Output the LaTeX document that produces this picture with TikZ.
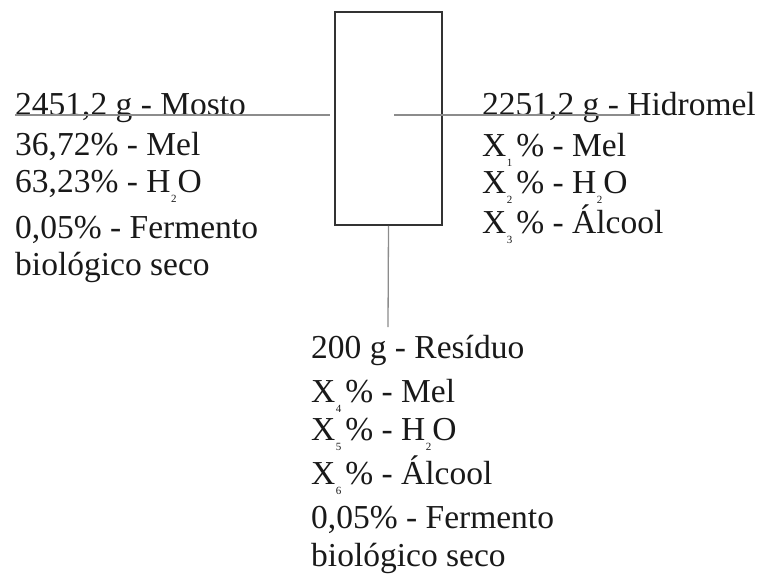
\documentclass[tikz,border=0pt]{standalone}
\usepackage{fontspec}
\setmainfont{Liberation Serif}
\usepackage{xcolor}
\usepackage{tikz}
\usetikzlibrary{positioning, calc}

\newcommand{\lowidx}[1]{\kern0.5pt\raisebox{-0.3em}{\fontsize{11}{11}\selectfont #1}\kern1pt}

\begin{document}
\begin{tikzpicture}[
  x=1pt, y=-1pt,
  vessel/.style={rectangle, draw=black!80, line width=1.8pt, minimum width=107pt, minimum height=213pt, inner sep=0pt},
  label/.style={anchor=base west, inner sep=0pt, align=left, text=black!90, font=\fontsize{33.5}{40}\selectfont},
  stream/.style={draw=black!45, line width=1.3pt}
]
  \useasboundingbox (0,0) rectangle (763,576);

  \node[vessel] (tank) at (388.5,118.5) {};

  \coordinate (inlet) at (15,115);
  \coordinate (inend) at (330,115);
  \coordinate (outstart) at (394,115);
  \coordinate (outlet) at (640,115);
  \coordinate (drain) at (388,327);

  % base anchor = baseline of the last line
  \node[label] (mosto) at (15,275) {2451,2 g - Mosto\\
    36,72\% - Mel\\[-3pt]
    63,23\% - H\lowidx{2}O\\[6pt]
    0,05\% - Fermento\\[-3pt]
    biológico seco};
  \node[label] (hidromel) at (482,233) {2251,2 g - Hidromel\\[1pt]
    X\lowidx{1}\kern3pt\% - Mel\\[-3pt]
    X\lowidx{2}\kern3pt\% - H\lowidx{2}O\\
    X\lowidx{3}\kern3pt\% - Álcool};
  \node[label] (residuo) at (311,566) {200 g - Resíduo\\[4pt]
    X\lowidx{4}\kern3pt\% - Mel\\[-2pt]
    X\lowidx{5}\kern3pt\% - H\lowidx{2}O\\[4pt]
    X\lowidx{6}\kern3pt\% - Álcool\\[4pt]
    0,05\% - Fermento\\[-2pt]
    biológico seco};

  \draw[stream] (inlet) -- (inend);
  \draw[stream] (outstart) -- (outlet);
  \draw[stream] (tank.south) -- (drain);
\end{tikzpicture}
\end{document}
